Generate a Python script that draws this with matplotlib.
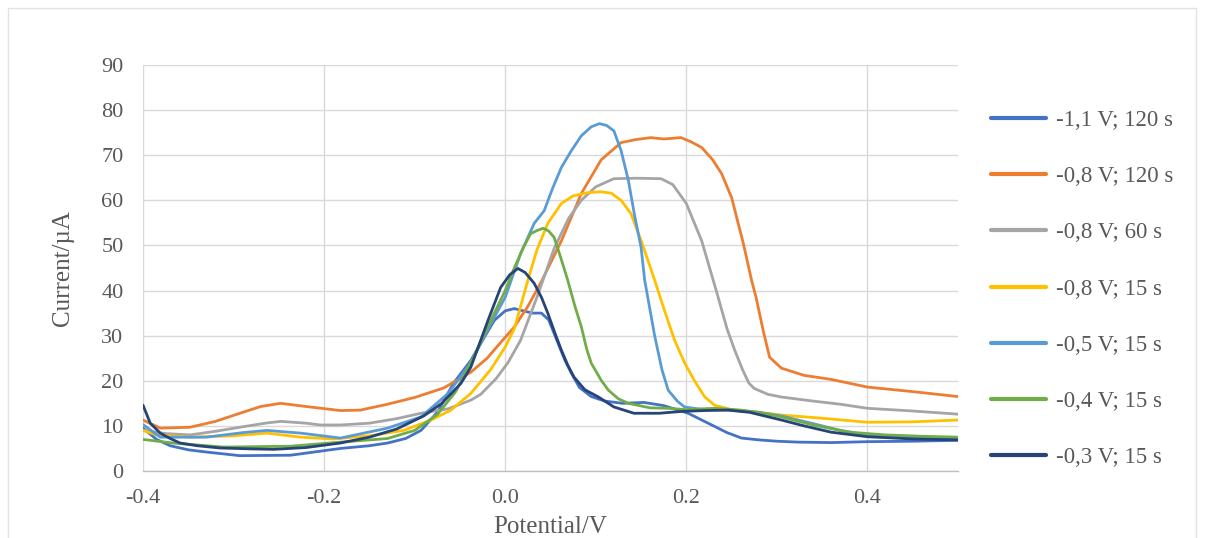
import matplotlib
matplotlib.use("Agg")
import matplotlib.pyplot as plt
from matplotlib.patches import Rectangle

plt.rcParams['font.family'] = ['Liberation Serif', 'DejaVu Serif']

labels = ["-1,1 V; 120 s", "-0,8 V; 120 s", "-0,8 V; 60 s", "-0,8 V; 15 s",
          "-0,5 V; 15 s", "-0,4 V; 15 s", "-0,3 V; 15 s"]
colors = ["#4472C4", "#ED7D31", "#A5A5A5", "#FFC000", "#5B9BD5", "#70AD47", "#264478"]

x1 = [-0.4, -0.385, -0.37, -0.35, -0.33, -0.293, -0.237, -0.182, -0.15, -0.13, -0.11, -0.093, -0.075,
      -0.057, -0.038, -0.025, -0.012, 0.0, 0.01, 0.02, 0.03, 0.04, 0.048, 0.058, 0.066, 0.073, 0.082,
      0.095, 0.11, 0.13, 0.153, 0.175, 0.202, 0.225, 0.245, 0.261, 0.28, 0.3, 0.324, 0.36, 0.4, 0.45, 0.5]
y1 = [9.5, 7.0, 5.6, 4.7, 4.2, 3.4, 3.5, 5.0, 5.6, 6.2, 7.2, 9.0, 13.0,
      19.5, 24.5, 29.0, 33.4, 35.5, 36.0, 35.5, 35.0, 35.0, 33.5, 28.5, 24.5, 21.7, 18.5,
      16.5, 15.5, 15.0, 15.2, 14.5, 12.8, 10.5, 8.5, 7.3, 6.9, 6.6, 6.4, 6.3, 6.5, 6.6, 6.8]

x2 = [-0.4, -0.381, -0.348, -0.32, -0.293, -0.27, -0.248, -0.22, -0.182, -0.16, -0.13, -0.1, -0.068,
      -0.038, -0.02, -0.005, 0.01, 0.025, 0.04, 0.062, 0.084, 0.106, 0.128, 0.145, 0.161, 0.175, 0.194,
      0.205, 0.217, 0.229, 0.239, 0.25, 0.263, 0.272, 0.277, 0.285, 0.292, 0.305, 0.33, 0.36, 0.4, 0.45, 0.5]
y2 = [11.3, 9.5, 9.7, 11.0, 12.8, 14.3, 15.0, 14.3, 13.4, 13.5, 14.8, 16.3, 18.4,
      21.9, 25.0, 28.5, 31.9, 36.5, 42.0, 51.0, 61.5, 69.0, 72.8, 73.5, 73.9, 73.6, 73.9,
      73.0, 71.7, 69.0, 65.9, 60.6, 50.4, 42.3, 38.5, 31.0, 25.2, 22.8, 21.2, 20.3, 18.6, 17.6, 16.5]

x3 = [-0.4, -0.375, -0.348, -0.32, -0.293, -0.265, -0.248, -0.22, -0.204, -0.182, -0.15, -0.12, -0.093,
      -0.063, -0.038, -0.027, -0.01, 0.003, 0.017, 0.035, 0.054, 0.07, 0.084, 0.1, 0.12, 0.145, 0.172,
      0.185, 0.2, 0.217, 0.233, 0.245, 0.253, 0.262, 0.269, 0.275, 0.29, 0.305, 0.34, 0.37, 0.4, 0.45, 0.5]
y3 = [9.0, 8.3, 8.0, 8.8, 9.7, 10.6, 11.0, 10.6, 10.2, 10.2, 10.6, 11.6, 12.8,
      13.8, 15.7, 17.0, 20.5, 24.0, 29.0, 38.5, 49.3, 56.0, 60.0, 63.0, 64.8, 64.9, 64.8,
      63.5, 59.3, 51.0, 40.0, 31.5, 27.0, 22.5, 19.5, 18.3, 17.0, 16.4, 15.5, 14.8, 13.9, 13.3, 12.6]

x4 = [-0.4, -0.385, -0.348, -0.3, -0.263, -0.226, -0.19, -0.15, -0.112, -0.082, -0.06, -0.038, -0.016,
      0.0, 0.01, 0.025, 0.035, 0.047, 0.062, 0.075, 0.091, 0.105, 0.117, 0.128, 0.139, 0.152, 0.165,
      0.176, 0.187, 0.198, 0.209, 0.22, 0.231, 0.25, 0.28, 0.305, 0.35, 0.4, 0.45, 0.5]
y4 = [9.0, 8.0, 7.5, 7.8, 8.4, 7.5, 7.1, 7.8, 9.0, 11.3, 13.5, 17.2, 22.5,
      27.5, 31.5, 42.3, 49.0, 54.9, 59.3, 61.0, 61.7, 61.9, 61.6, 60.0, 57.0, 50.0, 42.3,
      35.5, 29.0, 24.0, 20.0, 16.5, 14.6, 13.6, 13.0, 12.4, 11.7, 10.8, 10.9, 11.3]

x5 = [-0.4, -0.381, -0.33, -0.29, -0.263, -0.245, -0.226, -0.182, -0.13, -0.093, -0.063, -0.038, -0.015,
      0.0, 0.017, 0.032, 0.043, 0.052, 0.062, 0.073, 0.084, 0.095, 0.104, 0.112, 0.12, 0.128, 0.136,
      0.143, 0.15, 0.154, 0.165, 0.173, 0.18, 0.19, 0.198, 0.215, 0.25, 0.28, 0.305, 0.34, 0.37,
      0.4, 0.45, 0.5]
y5 = [10.3, 7.5, 7.5, 8.5, 9.0, 8.7, 8.4, 7.3, 9.5, 12.0, 17.2, 24.0, 33.0,
      38.5, 48.2, 54.9, 57.7, 62.5, 67.3, 71.0, 74.3, 76.3, 77.0, 76.6, 75.4, 71.0, 64.4,
      56.5, 49.6, 42.3, 30.0, 22.5, 17.9, 15.5, 14.2, 13.7, 13.5, 13.0, 12.2, 10.5, 9.0,
      8.0, 7.3, 7.0]

x6 = [-0.4, -0.367, -0.311, -0.237, -0.182, -0.13, -0.1, -0.075, -0.055, -0.035, -0.012, 0.0, 0.01,
      0.02, 0.028, 0.035, 0.042, 0.048, 0.054, 0.061, 0.069, 0.077, 0.084, 0.09, 0.095, 0.106, 0.114,
      0.125, 0.136, 0.16, 0.18, 0.2, 0.231, 0.26, 0.28, 0.305, 0.34, 0.38, 0.42, 0.46, 0.5]
y6 = [7.0, 6.2, 5.3, 5.5, 6.4, 7.2, 9.0, 12.5, 17.5, 25.2, 35.0, 40.0, 45.0,
      49.5, 52.6, 53.3, 53.8, 53.2, 51.8, 47.5, 42.3, 36.5, 32.0, 27.0, 23.9, 20.1, 17.9,
      16.0, 15.0, 14.0, 13.9, 13.6, 13.9, 13.5, 13.0, 12.0, 10.2, 8.6, 8.0, 7.7, 7.5]

x7 = [-0.4, -0.392, -0.381, -0.37, -0.359, -0.34, -0.315, -0.28, -0.256, -0.22, -0.182, -0.15, -0.12,
      -0.09, -0.07, -0.049, -0.038, -0.019, -0.005, 0.005, 0.014, 0.022, 0.032, 0.04, 0.047, 0.055,
      0.062, 0.069, 0.076, 0.088, 0.103, 0.12, 0.142, 0.17, 0.194, 0.22, 0.246, 0.27, 0.305, 0.33,
      0.36, 0.4, 0.45, 0.5]
y7 = [14.6, 10.6, 8.4, 7.2, 6.2, 5.6, 5.1, 4.9, 4.8, 5.2, 6.2, 7.5, 9.3,
      12.2, 15.0, 19.4, 23.0, 33.4, 40.7, 43.5, 44.9, 44.0, 41.6, 38.5, 35.0, 30.5,
      26.8, 23.5, 20.8, 18.0, 16.4, 14.2, 12.8, 12.8, 13.2, 13.4, 13.5, 13.0, 11.3, 10.0,
      8.6, 7.6, 7.1, 6.9]

xs = [x1, x2, x3, x4, x5, x6, x7]
ys = [y1, y2, y3, y4, y5, y6, y7]

xticks = [-0.4, -0.2, 0.0, 0.2, 0.4]
yticks = [0, 10, 20, 30, 40, 50, 60, 70, 80, 90]

W, H = 1206, 538
fig = plt.figure(figsize=(W / 100, H / 100), dpi=100)
fig.patches.append(Rectangle((8 / W, -20 / H), 1188 / W, 550 / H, transform=fig.transFigure,
                             fill=False, edgecolor="#E3E3E3", linewidth=1.0))
ax = fig.add_axes([143 / W, 1 - 471 / H, (958 - 143) / W, (471 - 65) / H])

for xv, yv, c, lab in zip(xs, ys, colors, labels):
    ax.plot(xv, yv, color=c, lw=2.0, label=lab, solid_capstyle='round', solid_joinstyle='round')

ax.set_xlim(-0.4, 0.5)
ax.set_ylim(0, 90)
ax.set_xticks(xticks)
ax.set_xticklabels([f"{t:.1f}" for t in xticks])
ax.set_yticks(yticks)
ax.grid(True, color="#D9D9D9", lw=1.0)
ax.set_axisbelow(True)
for s in ["top", "right", "left"]:
    ax.spines[s].set_visible(False)
ax.spines["bottom"].set_color("#BFBFBF")
ax.spines["bottom"].set_linewidth(1.0)
ax.tick_params(length=0, labelsize=16, colors="#595959")
ax.tick_params(axis="x", pad=13)
ax.tick_params(axis="y", pad=14)
ax.set_xlabel("Potential/V", fontsize=18, color="#595959", labelpad=6)
ax.set_ylabel("Current/µA", fontsize=18, color="#595959", labelpad=20)

leg = ax.legend(loc="upper left", bbox_to_anchor=(982 / W, 1 - 101 / H),
                bbox_transform=fig.transFigure, frameon=False, fontsize=16.5,
                handlelength=2.4, handletextpad=0.45, labelspacing=1.53, borderaxespad=0)
for t in leg.get_texts():
    t.set_color("#595959")
for l in leg.get_lines():
    l.set_linewidth(3.0)

fig.savefig("out.png", dpi=100)
